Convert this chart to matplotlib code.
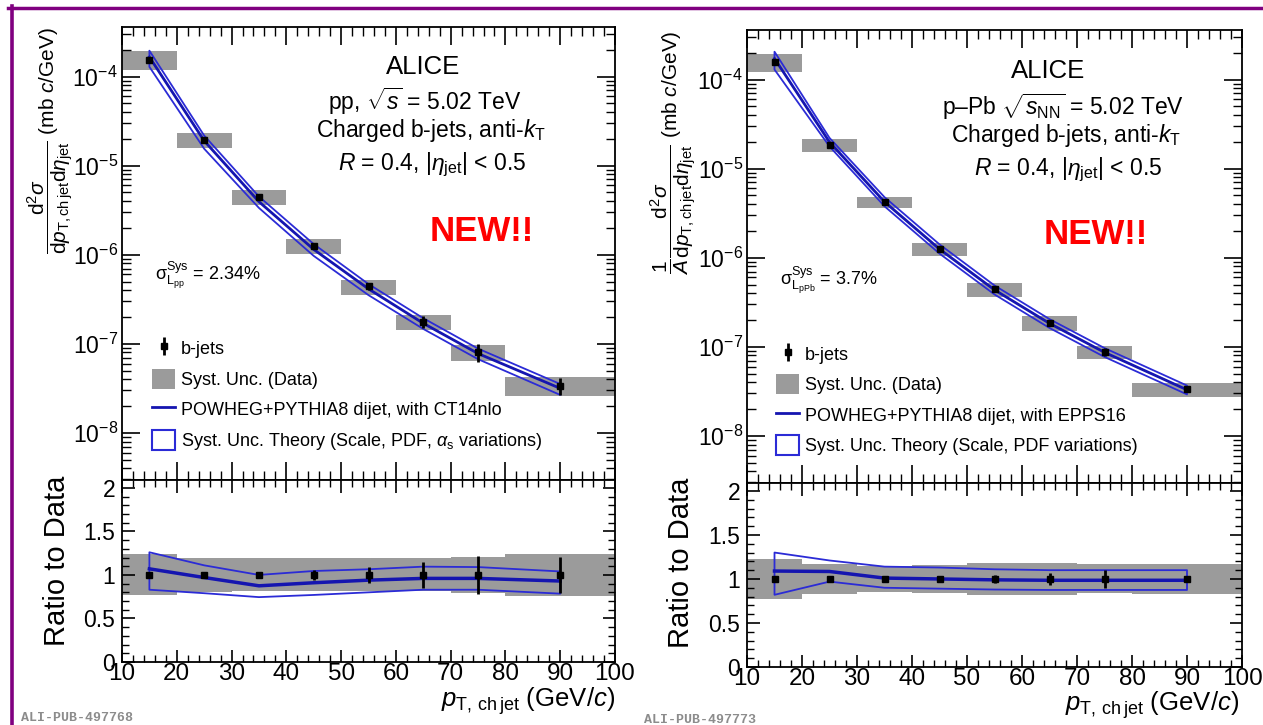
import numpy as np
import matplotlib
matplotlib.use("Agg")
import matplotlib.pyplot as plt
from matplotlib.ticker import MultipleLocator, LogLocator, NullFormatter, FuncFormatter
from matplotlib.patches import Patch
from matplotlib.lines import Line2D

plt.rcParams['font.family'] = ['Liberation Sans', 'DejaVu Sans']
plt.rcParams['mathtext.fontset'] = 'custom'
plt.rcParams['mathtext.rm'] = 'Liberation Sans'
plt.rcParams['mathtext.it'] = 'Liberation Sans:italic'
plt.rcParams['mathtext.bf'] = 'Liberation Sans:bold'
plt.rcParams['mathtext.sf'] = 'Liberation Sans'

# ---------------- data ----------------
pt = [15, 25, 35, 45, 55, 65, 75, 90]
bin_lo = [10, 20, 30, 40, 50, 60, 70, 80]
bin_hi = [20, 30, 40, 50, 60, 70, 80, 100]

# pp
pp_xsec = [1.55e-4, 1.96e-5, 4.5e-6, 1.26e-6, 4.4e-7, 1.77e-7, 8.1e-8, 3.4e-8]
pp_stat = [0.015, 0.025, 0.035, 0.06, 0.095, 0.145, 0.22, 0.21]
pp_sys = [0.235, 0.20, 0.19, 0.19, 0.19, 0.19, 0.21, 0.24]
pp_theo = [1.07, 0.97, 0.875, 0.91, 0.94, 0.96, 0.96, 0.93]
pp_theo_hi = [1.26, 1.11, 1.00, 1.045, 1.065, 1.095, 1.09, 1.04]
pp_theo_lo = [0.83, 0.79, 0.745, 0.77, 0.80, 0.83, 0.83, 0.785]

# p-Pb
ppb_xsec = [1.58e-4, 1.83e-5, 4.2e-6, 1.25e-6, 4.4e-7, 1.86e-7, 8.8e-8, 3.34e-8]
ppb_stat = [0.01, 0.015, 0.02, 0.03, 0.045, 0.065, 0.10, 0.03]
ppb_sys = [0.23, 0.17, 0.15, 0.16, 0.185, 0.185, 0.165, 0.175]
ppb_theo = [1.09, 1.085, 1.01, 1.0, 0.99, 0.985, 0.985, 0.985]
ppb_theo_hi = [1.30, 1.21, 1.14, 1.13, 1.11, 1.10, 1.10, 1.10]
ppb_theo_lo = [0.82, 0.97, 0.90, 0.89, 0.88, 0.875, 0.875, 0.875]

GRAY = '#9b9b9b'
BAND = '#2b2bd6'
CENTRAL = '#1515b0'

W, H = 1263, 725
fig = plt.figure(figsize=(W / 100, H / 100), dpi=100)


def px_axes(x0, y0, x1, y1):
    return fig.add_axes([x0 / W, 1 - y1 / H, (x1 - x0) / W, (y1 - y0) / H])


def style_axes(ax, log=False, ratio=False):
    for s in ax.spines.values():
        s.set_linewidth(1.3)
    ax.set_xlim(10, 100)
    ax.xaxis.set_major_locator(MultipleLocator(10))
    ax.xaxis.set_minor_locator(MultipleLocator(2))
    if log:
        ax.set_yscale('log')
        ax.set_ylim(2.96e-9, 3.6e-4)
        ax.yaxis.set_major_locator(LogLocator(base=10, numticks=20))
        ax.yaxis.set_minor_locator(LogLocator(base=10, subs=np.arange(2, 10), numticks=20))
        ax.yaxis.set_minor_formatter(NullFormatter())
        ax.tick_params(which='major', length=13, width=1.2)
        ax.tick_params(which='minor', length=6.5, width=1.0)
        ax.tick_params(axis='y', labelsize=16.5, pad=3)
        ax.tick_params(axis='x', labelbottom=False)
    if ratio:
        ax.set_ylim(0, 2.09)
        ax.yaxis.set_major_locator(MultipleLocator(0.5))
        ax.yaxis.set_minor_locator(MultipleLocator(0.1))
        ax.yaxis.set_major_formatter(FuncFormatter(lambda v, p: '%g' % v))
        ax.tick_params(which='major', length=9, width=1.2)
        ax.tick_params(which='minor', length=5, width=1.0)
        ax.tick_params(axis='y', labelsize=16.5, pad=5)
        ax.tick_params(axis='x', labelsize=17.5, pad=1)
    ax.tick_params(which='both', direction='in', top=True, right=True)


def draw(ax, axr, xsec, stat, sys, theo, theo_hi, theo_lo, mlabel, blabel):
    x = np.array(pt, float)
    lo = np.array(bin_lo, float)
    hi = np.array(bin_hi, float)
    y = np.array(xsec)
    st = np.array(stat)
    sy = np.array(sys)
    th = np.array(theo)
    thh = np.array(theo_hi)
    thl = np.array(theo_lo)
    ctr = (lo + hi) / 2
    wid = hi - lo

    # top panel
    ax.bar(ctr, y * 2 * sy, bottom=y * (1 - sy), width=wid, color=GRAY,
           linewidth=0, zorder=1)
    ax.fill_between(x, y * thl, y * thh, facecolor='none', edgecolor=BAND,
                    linewidth=1.3, zorder=2)
    ax.plot(x, y * th, color=CENTRAL, lw=2.0, zorder=3)
    eb = ax.errorbar(x, y, yerr=y * st, fmt='s', color='black', ms=5,
                     elinewidth=2, capsize=0, zorder=4)

    # ratio panel
    r = y / y
    axr.bar(ctr, 2 * sy, bottom=r - sy, width=wid, color=GRAY, linewidth=0, zorder=1)
    axr.fill_between(x, thl, thh, facecolor='none', edgecolor=BAND, linewidth=1.3, zorder=2)
    axr.plot(x, th, color=CENTRAL, lw=2.5, zorder=3)
    axr.errorbar(x, r, yerr=st, fmt='s', color='black', ms=5, elinewidth=2,
                 capsize=0, zorder=4)

    handles = [eb,
               Patch(facecolor=GRAY, edgecolor='none'),
               Line2D([], [], color=CENTRAL, lw=2),
               Patch(facecolor='none', edgecolor=BAND, lw=1.5)]
    labels = ['b-jets', 'Syst. Unc. (Data)', mlabel, blabel]
    return handles, labels


LEG = dict(loc='center left', frameon=False, fontsize=13, borderpad=0, borderaxespad=0,
           handlelength=1.27, handleheight=1.33, handletextpad=0.33, labelspacing=0.58)

# ---------- left (pp) ----------
axL = px_axes(122, 27, 615, 480)
axLr = px_axes(122, 480, 615, 662)
style_axes(axL, log=True)
style_axes(axLr, ratio=True)
hL, lL = draw(axL, axLr, pp_xsec, pp_stat, pp_sys, pp_theo, pp_theo_hi, pp_theo_lo,
              'POWHEG+PYTHIA8 dijet, with CT14nlo',
              r'Syst. Unc. Theory (Scale, PDF, $\alpha_{\mathrm{s}}$ variations)')
axL.legend(hL, lL, bbox_to_anchor=(0.061, 0.1876), **LEG)

kw = dict(ha='center', va='baseline', transform=axL.transAxes)
axL.text(0.611, 0.896, 'ALICE', fontsize=18.5, **kw)
axL.text(0.613, 0.817, r'pp, $\sqrt{s}$ = 5.02 TeV', fontsize=16.5, **kw)
axL.text(0.627, 0.757, r'Charged b-jets, anti-$k_{\mathrm{T}}$', fontsize=16.5, **kw)
axL.text(0.629, 0.684, r'$R$ = 0.4, |$\eta_{\mathrm{jet}}$| < 0.5', fontsize=16.5, **kw)
axL.text(0.730, 0.528, 'NEW!!', fontsize=25, fontweight='bold', color='#ff0000', **kw)
axL.text(0.067, 0.4415, r'$\mathrm{\sigma}^{\mathrm{Sys}}_{\mathrm{L}_{\mathrm{pp}}}$ = 2.34%',
         fontsize=13, ha='left', va='baseline', transform=axL.transAxes)

fig.text(50 / W, 1 - 27 / H,
         r'$\dfrac{\mathrm{d}^{2}\sigma}{\mathrm{d}p_{\mathrm{T,ch\,jet}}\mathrm{d}\eta_{\mathrm{jet}}}$ (mb $c$/GeV)',
         rotation=90, ha='center', va='top', fontsize=15)
fig.text(57 / W, 1 - 561 / H, 'Ratio to Data', rotation=90, ha='center', va='center', fontsize=21)
fig.text(615 / W, 1 - 707 / H, r'$p_{\mathrm{T,\,ch\,jet}}$ (GeV/$c$)', ha='right',
         va='baseline', fontsize=18.5)
fig.text(21 / W, 1 - 718 / H, 'ALI-PUB-497768', fontsize=9.5, family='Liberation Mono',
         fontweight='bold', color='#8c8c8c', va='center', ha='left')

# ---------- right (p-Pb) ----------
axR = px_axes(747, 30, 1242, 483)
axRr = px_axes(747, 483, 1242, 667)
style_axes(axR, log=True)
style_axes(axRr, ratio=True)
hR, lR = draw(axR, axRr, ppb_xsec, ppb_stat, ppb_sys, ppb_theo, ppb_theo_hi, ppb_theo_lo,
              'POWHEG+PYTHIA8 dijet, with EPPS16',
              'Syst. Unc. Theory (Scale, PDF variations)')
axR.legend(hR, lR, bbox_to_anchor=(0.059, 0.184), **LEG)

kw = dict(ha='center', va='baseline', transform=axR.transAxes)
axR.text(0.608, 0.894, 'ALICE', fontsize=18.5, **kw)
axR.text(0.638, 0.812, r'p–Pb $\sqrt{s_{\mathrm{NN}}}$ = 5.02 TeV', fontsize=16.5, **kw)
axR.text(0.644, 0.753, r'Charged b-jets, anti-$k_{\mathrm{T}}$', fontsize=16.5, **kw)
axR.text(0.648, 0.680, r'$R$ = 0.4, |$\eta_{\mathrm{jet}}$| < 0.5', fontsize=16.5, **kw)
axR.text(0.705, 0.528, 'NEW!!', fontsize=25, fontweight='bold', color='#ff0000', **kw)
axR.text(0.067, 0.437, r'$\mathrm{\sigma}^{\mathrm{Sys}}_{\mathrm{L}_{\mathrm{pPb}}}$ = 3.7%',
         fontsize=13, ha='left', va='baseline', transform=axR.transAxes)

fig.text(673 / W, 1 - 30 / H,
         r'$\dfrac{1}{A}\dfrac{\mathrm{d}^{2}\sigma}{\mathrm{d}p_{\mathrm{T,ch\,jet}}\mathrm{d}\eta_{\mathrm{jet}}}$ (mb $c$/GeV)',
         rotation=90, ha='center', va='top', fontsize=15)
fig.text(681 / W, 1 - 563 / H, 'Ratio to Data', rotation=90, ha='center', va='center', fontsize=21)
fig.text(1239 / W, 1 - 711 / H, r'$p_{\mathrm{T,\,ch\,jet}}$ (GeV/$c$)', ha='right',
         va='baseline', fontsize=18.5)
fig.text(644 / W, 1 - 720 / H, 'ALI-PUB-497773', fontsize=9.5, family='Liberation Mono',
         fontweight='bold', color='#8c8c8c', va='center', ha='left')

# purple frame
fig.add_artist(Line2D([8 / W, 1.0], [1 - 7.5 / H, 1 - 7.5 / H], color='#800080', lw=2.5,
                      transform=fig.transFigure))
fig.add_artist(Line2D([11.5 / W, 11.5 / W], [1 - 6 / H, 0.0], color='#800080', lw=2.6,
                      transform=fig.transFigure))

fig.savefig('out.png', dpi=100)
